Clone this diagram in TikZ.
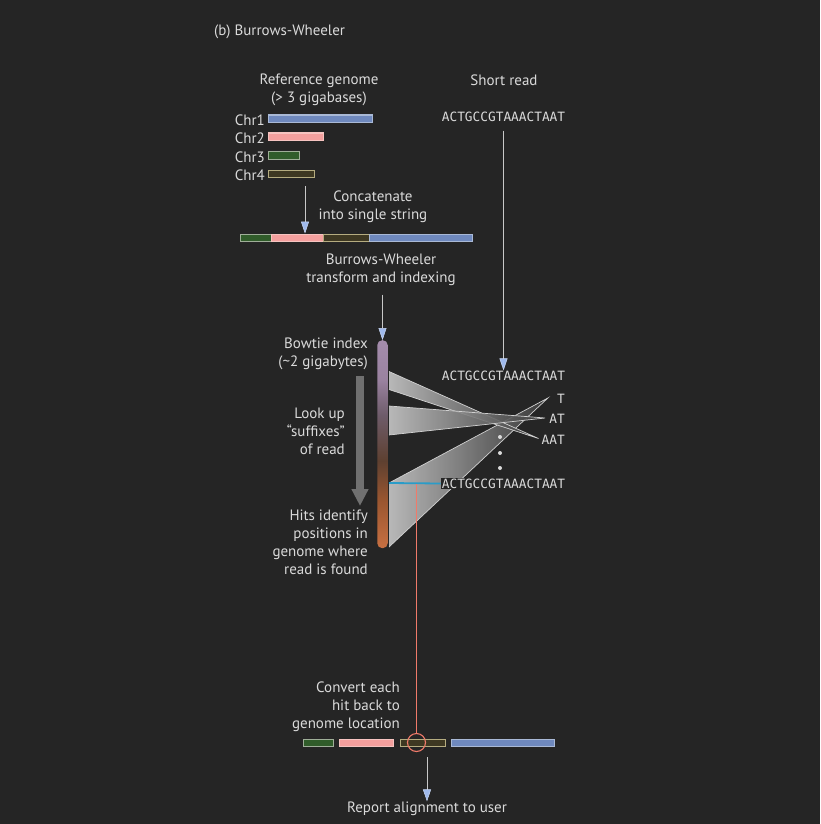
\documentclass[tikz,border=0pt]{standalone}
\usepackage{fontspec}
\setmainfont{PT Sans}
\setmonofont{DejaVu Sans Mono}
\usetikzlibrary{arrows.meta,calc}
\definecolor{bg}{HTML}{252525}
\definecolor{txt}{HTML}{DADADA}
\definecolor{cblue}{HTML}{6F89BE}
\definecolor{cblueb}{HTML}{A9B9D6}
\definecolor{cpink}{HTML}{F4A09E}
\definecolor{cpinkb}{HTML}{F6C4C0}
\definecolor{cgreen}{HTML}{305C2A}
\definecolor{cgreenb}{HTML}{9FAE98}
\definecolor{colive}{HTML}{3E3822}
\definecolor{coliveb}{HTML}{B5AC80}
\definecolor{arrline}{HTML}{C8C8C8}
\definecolor{arrhead}{HTML}{9FB9EC}
\definecolor{arrheadb}{HTML}{C9D7F4}
\definecolor{garr}{HTML}{707070}
\definecolor{cyanl}{HTML}{2A9CC8}
\definecolor{redl}{HTML}{F07A6A}
\definecolor{wedgel}{HTML}{C8C8C8}
\definecolor{wedged}{HTML}{3A3A3A}
\definecolor{bw1}{HTML}{C87042}
\definecolor{bw2}{HTML}{9A5630}
\definecolor{bw3}{HTML}{5E4030}
\definecolor{bw4}{HTML}{6E5C6A}
\definecolor{bw5}{HTML}{9A82A0}
\definecolor{bw6}{HTML}{A48CAC}
\pgfdeclareverticalshading{bowtie}{100bp}{color(0bp)=(bw1); color(25bp)=(bw1); color(36.5bp)=(bw2); color(46bp)=(bw3); color(57bp)=(bw4); color(65.5bp)=(bw5); color(75bp)=(bw6); color(100bp)=(bw6)}
\tikzset{
  lbl/.style={text=txt, font=\fontsize{15}{18}\selectfont, inner sep=0pt, align=center},
  lblr/.style={lbl, align=right},
  seq/.style={text=txt, font=\ttfamily\fontsize{12.8}{15}\selectfont, inner sep=0pt},
  chrbar/.style={minimum height=7.5pt, inner sep=0pt, line width=1.1pt, anchor=north west},
  bluebar/.style={chrbar, fill=cblue, draw=cblueb},
  pinkbar/.style={chrbar, fill=cpink, draw=cpinkb},
  greenbar/.style={chrbar, fill=cgreen, draw=cgreenb},
  olivebar/.style={chrbar, fill=colive, draw=coliveb},
  arr/.style={draw=arrline, line width=0.9pt, -{Triangle[length=12pt,width=8pt,fill=arrhead,color=arrheadb,line width=0.5pt]}},
  wedge/.style={left color=wedgel, right color=wedged, fill opacity=0.9},
  wedgeedge/.style={draw=wedgel!85!white, line width=0.7pt},
  dot/.style={circle, fill=txt, inner sep=0pt, minimum size=4pt},
}
\begin{document}
\begin{tikzpicture}[x=1pt,y=-1pt]
\path[fill=bg] (0,0) rectangle (820,824);
\useasboundingbox (0,0) rectangle (820,824);

% title
\node[lbl, anchor=west] (title) at (214,32) {(b) Burrows-Wheeler};

% top labels
\node[lbl] (refg) at (319,89.5) {Reference genome\\(> 3 gigabases)};
\node[lbl] (shortr) at (504,80) {Short read};
\node[seq] (read1) at (503.5,116.5) {ACTGCCGTAAACTAAT};

% chromosomes
\node[lbl, anchor=east] (c1l) at (265,120) {Chr1};
\node[lbl, anchor=east] (c2l) at (265,138.5) {Chr2};
\node[lbl, anchor=east] (c3l) at (265,157) {Chr3};
\node[lbl, anchor=east] (c4l) at (265,175.5) {Chr4};
\node[bluebar, minimum width=104pt] (chr1) at (268,114.5) {};
\node[pinkbar, minimum width=55pt] (chr2) at (268,132.5) {};
\node[greenbar, minimum width=31pt] (chr3) at (268,151) {};
\node[olivebar, minimum width=46pt] (chr4) at (268,169.5) {};

% concatenate
\node[lbl] (concat) at (373,206.5) {Concatenate\\into single string};
\node[greenbar, minimum width=31pt] (cat1) at (240,233.5) {};
\node[pinkbar, minimum width=52pt] (cat2) at (271,233.5) {};
\node[olivebar, minimum width=46pt] (cat3) at (323,233.5) {};
\node[bluebar, minimum width=103pt] (cat4) at (369,233.5) {};
\coordinate (a1s) at (305,186);
\draw[arr] (a1s) -- (a1s |- cat2.north);

% BWT
\node[lbl] (bwt) at (381,269.5) {Burrows-Wheeler\\transform and indexing};
\node[shading=bowtie, rounded corners=5pt, minimum width=10.5pt, minimum height=208pt, inner sep=0pt, anchor=north] (bw) at (382.5,340) {};
\draw[arr, shorten <=9pt] (bw.north |- bwt.south) -- (bw.north);

\node[lblr, anchor=east] (bwl) at (368,353.5) {Bowtie index\\(\char`~2 gigabytes)};
\node[lblr, anchor=east] (look) at (345,431.5) {Look up\\“suffixes”\\of read};
\node[lblr, anchor=east] (hits) at (368,542.5) {Hits identify\\positions in\\genome where\\read is found};

% gray arrow
\coordinate (g1) at (360,376);
\coordinate (g2) at (360,506);
\draw[garr, line width=8pt, -{Triangle[length=17pt,width=16pt]}] (g1) -- (g2);

% reads
\node[seq] (read2) at (503.5,375.5) {ACTGCCGTAAACTAAT};
\draw[arr, shorten <=9pt] (read1.south) -- (read2.north);
\node[seq, anchor=east] (sT) at (565,398.5) {T};
\node[seq, anchor=east] (sAT) at (565,418.5) {AT};
\node[seq, anchor=east] (sAAT) at (565,439.5) {AAT};

% wedges
\coordinate (w1a) at (389,371.5);
\coordinate (w1b) at (389,389.5);
\coordinate (w2a) at (389,406);
\coordinate (w2b) at (389,435);
\coordinate (w3a) at (389,483);
\coordinate (w3b) at (389,547);
\coordinate (p1) at ($(sAAT.west)+(-3,-1)$);
\coordinate (p2) at ($(sAT.west)+(-4,-0.5)$);
\coordinate (p3) at ($(sT.west)+(-9,-0.5)$);
\shade[wedge] (w3a) -- (p3) -- (w3b) -- cycle;
\draw[wedgeedge] (w3a) -- (p3) -- (w3b);
\shade[wedge] (w1a) -- (p1) -- (w1b) -- cycle;
\draw[wedgeedge] (w1a) -- (p1) -- (w1b);
\shade[wedge] (w2a) -- (p2) -- (w2b) -- cycle;
\draw[wedgeedge] (w2a) -- (p2) -- (w2b);

\node[dot] (d1) at (500,437) {};
\node[dot] (d2) at (500,453) {};
\node[dot] (d3) at (500,468) {};

\node[seq, fill=bg, inner sep=1pt] (read3) at (503.5,483.5) {ACTGCCGTAAACTAAT};
\draw[cyanl, line width=1.8pt] (w3a) -- (read3.west);

% bottom
\node[lblr, anchor=east] (conv) at (400,706.5) {Convert each\\hit back to\\genome location};
\node[greenbar, minimum width=30pt] (b1) at (303,738.5) {};
\node[pinkbar, minimum width=54pt] (b2) at (339,738.5) {};
\node[olivebar, minimum width=45pt] (b3) at (400,738.5) {};
\node[bluebar, minimum width=103pt] (b4) at (451,738.5) {};
\node[circle, draw=redl, line width=1.1pt, minimum size=18pt, inner sep=0pt] (hit) at (416.5,742.5) {};
\coordinate (rs) at (416.5,484);
\draw[redl, line width=1.1pt] (rs) -- (hit.north);

\node[lbl] (rep) at (427,808.5) {Report alignment to user};
\draw[arr] ([yshift=-10pt]b3.south -| rep.north) -- (rep.north);
\end{tikzpicture}
\end{document}
